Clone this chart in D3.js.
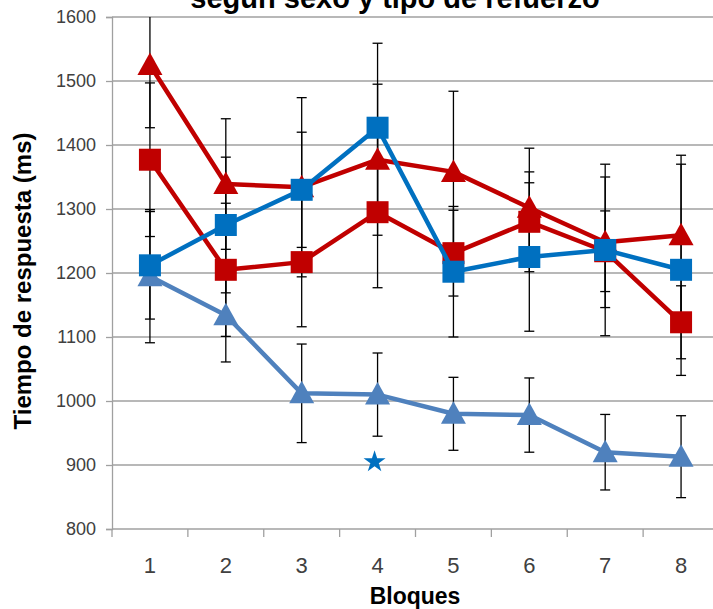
<!DOCTYPE html>
<html>
<head>
<meta charset="utf-8">
<script src="https://cdn.jsdelivr.net/npm/d3@7"></script>
<style>
  html, body { margin: 0; padding: 0; background: #fff; }
  svg { display: block; }
</style>
</head>
<body>
<svg id="chart" width="713" height="609"></svg>
<script>
// Block numbers on the horizontal axis
const bloques = [1, 2, 3, 4, 5, 6, 7, 8];
const yTicks = [800, 900, 1000, 1100, 1200, 1300, 1400, 1500, 1600];

// Mean response times (ms) and error half-widths per group
const rojoTriangulo = [1525, 1339, 1334, 1377, 1358, 1302, 1248, 1259];
const rojoTrianguloErr = [98, 102, 140, 118, 126, 93, 102, 125];
const rojoCuadrado = [1377, 1205, 1217, 1295, 1231, 1280, 1234, 1123];
const rojoCuadradoErr = [120, 104, 101, 118, 67, 78, 63, 57];
const azulCuadrado = [1212, 1275, 1330, 1427, 1202, 1225, 1236, 1205];
const azulCuadradoErr = [84, 106, 90, 132, 102, 116, 134, 165];
const celesteTriangulo = [1195, 1134, 1012, 1010, 980, 978, 920, 913];
const celesteTrianguloErr = [104, 73, 77, 65, 57, 58, 59, 64];

// Significance mark under block 4
const marcaBloque = 4;
const marcaValor = 905;

const svg = d3.select("#chart");
const W = 713;
const plotLeft = 112, plotTop = 17, plotBottom = 529, plotRight = 719;

const x = d3.scaleBand().domain(bloques).range([plotLeft, plotRight]).paddingInner(0).paddingOuter(0);
const cx = d => x(d) + x.bandwidth() / 2;
const y = d3.scaleLinear().domain([800, 1600]).range([plotBottom, plotTop]);

const grid = "#a0a0a0";

// Horizontal gridlines
svg.append("g").selectAll("line").data(yTicks).join("line")
  .attr("x1", plotLeft).attr("x2", W)
  .attr("y1", d => y(d)).attr("y2", d => y(d))
  .attr("stroke", grid).attr("stroke-width", 1.3);

// Y axis
const yAxis = d3.axisLeft(y).tickValues(yTicks).tickSize(6).tickPadding(10).tickFormat(d3.format("d"));
const gy = svg.append("g").attr("transform", `translate(${plotLeft},0)`).call(yAxis);
gy.select(".domain").attr("stroke", grid).attr("stroke-width", 1.3);
gy.selectAll(".tick line").attr("stroke", grid).attr("stroke-width", 1.3);
gy.selectAll(".tick text").attr("fill", "#404040")
  .style("font-family", "'Liberation Sans', Arial, sans-serif").style("font-size", "18px");

// X axis: ticks on band boundaries, labels centred in each band
const gx = svg.append("g").attr("transform", `translate(0,${plotBottom})`);
const bounds = bloques.map(d => x(d));
gx.selectAll("line.tk").data(bounds).join("line").attr("class", "tk")
  .attr("x1", d => d).attr("x2", d => d).attr("y1", 0).attr("y2", 8)
  .attr("stroke", grid).attr("stroke-width", 1.3);
gx.selectAll("text").data(bloques).join("text")
  .attr("x", d => cx(d)).attr("y", 44)
  .attr("text-anchor", "middle").attr("fill", "#404040")
  .style("font-family", "'Liberation Sans', Arial, sans-serif").style("font-size", "22px")
  .text(d => d);

// Axis titles and chart title
svg.append("text")
  .attr("x", 415).attr("y", 604).attr("text-anchor", "middle")
  .style("font-family", "'Liberation Sans', Arial, sans-serif").style("font-size", "23px").style("font-weight", "bold")
  .attr("fill", "#000").text("Bloques");

svg.append("text")
  .attr("transform", "translate(31,281) rotate(-90)").attr("text-anchor", "middle")
  .style("font-family", "'Liberation Sans', Arial, sans-serif").style("font-size", "24px").style("font-weight", "bold")
  .attr("fill", "#000").text("Tiempo de respuesta (ms)");

svg.append("text")
  .attr("x", 395).attr("y", 8).attr("text-anchor", "middle")
  .style("font-family", "'Liberation Sans', Arial, sans-serif").style("font-size", "29px").style("font-weight", "bold")
  .attr("fill", "#000").text("según sexo y tipo de refuerzo");

// Clip for the plot area
svg.append("clipPath").attr("id", "plot").append("rect")
  .attr("x", plotLeft).attr("y", plotTop).attr("width", plotRight - plotLeft).attr("height", plotBottom - plotTop);

const series = [
  { vals: celesteTriangulo, err: celesteTrianguloErr, color: "#4f81bd", shape: "tri" },
  { vals: rojoCuadrado, err: rojoCuadradoErr, color: "#c00000", shape: "sq" },
  { vals: rojoTriangulo, err: rojoTrianguloErr, color: "#c00000", shape: "tri" },
  { vals: azulCuadrado, err: azulCuadradoErr, color: "#0070c0", shape: "sq" }
];

// Error bars (under the lines and markers)
const eb = svg.append("g").attr("clip-path", "url(#plot)");
series.forEach(s => {
  const rows = bloques.map((b, i) => ({ b, v: s.vals[i], e: s.err[i] }));
  const g = eb.append("g").attr("stroke", "#000").attr("stroke-width", 1.3);
  g.selectAll("line.v").data(rows).join("line").attr("class", "v")
    .attr("x1", d => cx(d.b)).attr("x2", d => cx(d.b))
    .attr("y1", d => y(d.v + d.e)).attr("y2", d => y(d.v - d.e));
  g.selectAll("line.hi").data(rows).join("line").attr("class", "hi")
    .attr("x1", d => cx(d.b) - 5).attr("x2", d => cx(d.b) + 5)
    .attr("y1", d => y(d.v + d.e)).attr("y2", d => y(d.v + d.e));
  g.selectAll("line.lo").data(rows).join("line").attr("class", "lo")
    .attr("x1", d => cx(d.b) - 5).attr("x2", d => cx(d.b) + 5)
    .attr("y1", d => y(d.v - d.e)).attr("y2", d => y(d.v - d.e));
});

// Lines and markers
const line = d3.line().x(d => cx(d.b)).y(d => y(d.v));
const triPath = "M0,-12.5L12.5,10L-12.5,10Z";
series.forEach(s => {
  const rows = bloques.map((b, i) => ({ b, v: s.vals[i] }));
  const g = svg.append("g");
  g.append("path").datum(rows).attr("d", line)
    .attr("fill", "none").attr("stroke", s.color).attr("stroke-width", 4.5).attr("stroke-linejoin", "round");
  if (s.shape === "sq") {
    g.selectAll("rect").data(rows).join("rect")
      .attr("x", d => cx(d.b) - 11).attr("y", d => y(d.v) - 11)
      .attr("width", 22).attr("height", 22).attr("fill", s.color);
  } else {
    g.selectAll("path.m").data(rows).join("path").attr("class", "m")
      .attr("transform", d => `translate(${cx(d.b)},${y(d.v)})`)
      .attr("d", triPath).attr("fill", s.color);
  }
});

// Star marking block 4
svg.append("path")
  .attr("transform", `translate(${cx(marcaBloque) - 3},${y(marcaValor)})`)
  .attr("d", d3.symbol().type(d3.symbolStar).size(150)())
  .attr("fill", "#0070c0");
</script>
</body>
</html>
